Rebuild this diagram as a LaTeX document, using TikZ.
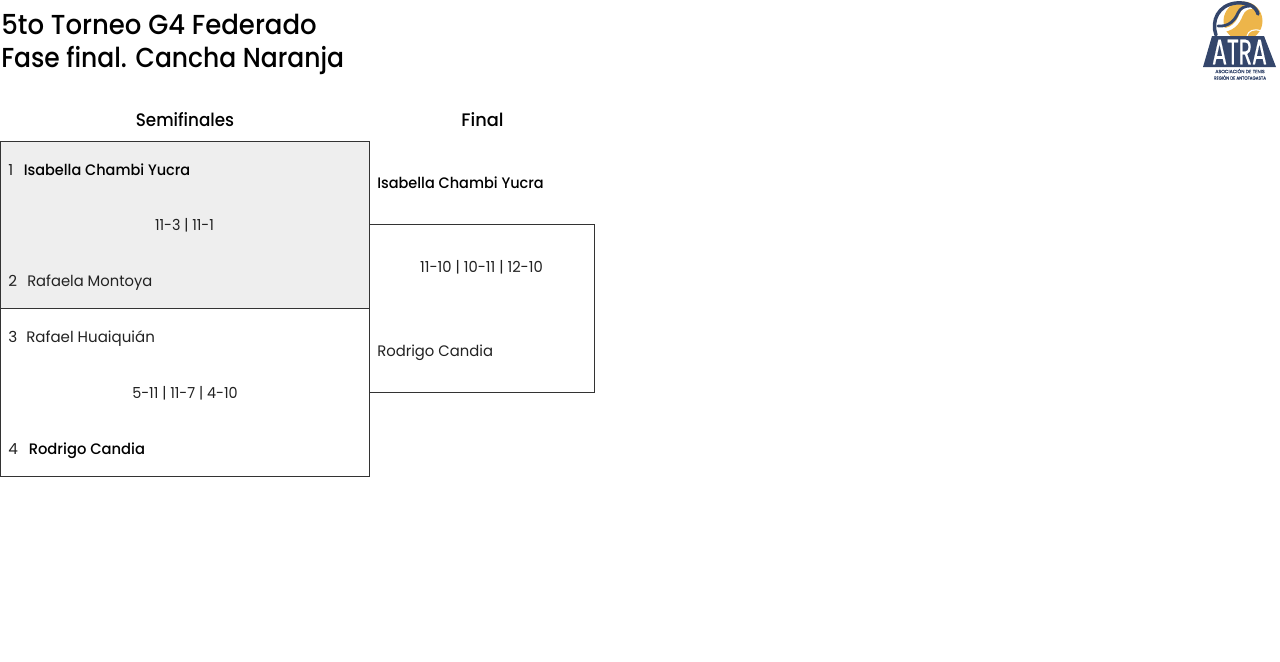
\documentclass[tikz,border=0pt]{standalone}
\usepackage{fontspec}
\setmainfont{Poppins}
\newfontfamily\poppinsmed{Poppins Medium}
\definecolor{atrablue}{HTML}{34466B}
\definecolor{atraorange}{HTML}{EDB54A}
\definecolor{boxgrey}{HTML}{EEEEEE}
\definecolor{boxline}{HTML}{333333}
\definecolor{namecol}{HTML}{222222}
\tikzset{
  x=0.75pt,y=-0.75pt,
  lbl/.style={inner sep=0pt,anchor=base west,font=\fontsize{11.4pt}{13pt}\selectfont,text=namecol},
  win/.style={lbl,text=black,font=\poppinsmed\fontsize{11.4pt}{13pt}\selectfont},
  score/.style={inner sep=0pt,anchor=base,font=\fontsize{11.4pt}{13pt}\selectfont,text=namecol},
  head/.style={inner sep=0pt,anchor=base,text=black,font=\poppinsmed\fontsize{13.6pt}{15pt}\selectfont},
  ttl/.style={inner sep=0pt,anchor=base west,text=black,font=\poppinsmed\fontsize{20.6pt}{24pt}\selectfont},
  boxa/.style={draw=boxline,line width=0.75pt},
}
\newcommand{\strw}[2]{{\addfontfeature{FakeStretch=#1}#2}}
\begin{document}
\begin{tikzpicture}
\useasboundingbox (0,0) rectangle (1280,661);
\node[ttl] (t1) at (1,34) {\strw{0.946}{5to Torneo G4 Federado}};
\node[ttl] (t2) at (1,67) {\strw{0.91}{Fase final. Cancha Naranja}};
\node[head] (h1) at (185,126) {\strw{0.925}{Semifinales}};
\node[head] (h2) at (482.5,126) {\strw{0.98}{Final}};
% boxes
\path[fill=boxgrey] (0.5,141.5) rectangle (369.5,308.5);
\draw[boxa] (0.5,141.5) rectangle (369.5,308.5);
\draw[boxa] (0.5,308.5) rectangle (369.5,476.5);
\draw[boxa] (369.5,224.5) -- (594.5,224.5) -- (594.5,392.5) -- (369.5,392.5);
% semifinal 1
\node[lbl] (n1) at (8,175) {1};
\node[win] (p1) at (23.5,175) {\strw{0.953}{Isabella Chambi Yucra}};
\node[score] (s1) at (184.5,230) {\strw{0.94}{11-3 | 11-1}};
\node[lbl] (n2) at (8,286) {2};
\node[lbl] (p2) at (27,286) {\strw{0.97}{Rafaela Montoya}};
% semifinal 2
\node[lbl] (n3) at (8,342) {3};
\node[lbl] (p3) at (26,342) {\strw{0.99}{Rafael Huaiquián}};
\node[score] (s2) at (185,398) {\strw{0.946}{5-11 | 11-7 | 4-10}};
\node[lbl] (n4) at (8,454) {4};
\node[win] (p4) at (28.5,454) {\strw{0.97}{Rodrigo Candia}};
% final
\node[win] (f1) at (377,188) {\strw{0.953}{Isabella Chambi Yucra}};
\node[score] (s3) at (481.5,272) {\strw{0.97}{11-10 | 10-11 | 12-10}};
\node[lbl] (f2) at (377,356) {\strw{0.975}{Rodrigo Candia}};
% logo
\fill[atraorange] (1243,21) circle (19.5);
\draw[white,line width=0.8pt] (1247,36) .. controls (1248,31) and (1254,28) .. (1261,31);
\draw[white,line width=2.6pt] (1219,30) .. controls (1232,31) and (1238,23) .. (1241,15) .. controls (1243,10) and (1247,7) .. (1252,7);
\draw[atrablue,line width=2.1pt,line cap=round] (1218,26) .. controls (1229,27) and (1235,20) .. (1238,13) .. controls (1240,8) and (1245,6) .. (1250,6);
\draw[atrablue,line width=2.6pt,line cap=round] (1216,35) .. controls (1211,21) and (1218,5) .. (1236,3) .. controls (1247,2) and (1256,6) .. (1258,14);
\fill[atrablue] (1212,36) -- (1264,36) -- (1276,67) -- (1203,67) -- cycle;
\node[inner sep=0pt,anchor=center,text=white] (logoa) at (1239.5,52) {\resizebox{41pt}{18.5pt}{\addfontfeature{FakeBold=0.5}ATRA}};
\node[inner sep=0pt,anchor=center,text=atrablue] (logob) at (1240,71) {\resizebox{37pt}{3.2pt}{\addfontfeature{FakeBold=0.8}ASOCIACIÓN DE TENIS}};
\node[inner sep=0pt,anchor=center,text=atrablue] (logoc) at (1240,77.6) {\resizebox{39pt}{3.2pt}{\addfontfeature{FakeBold=0.8}REGIÓN DE ANTOFAGASTA}};
\end{tikzpicture}
\end{document}
